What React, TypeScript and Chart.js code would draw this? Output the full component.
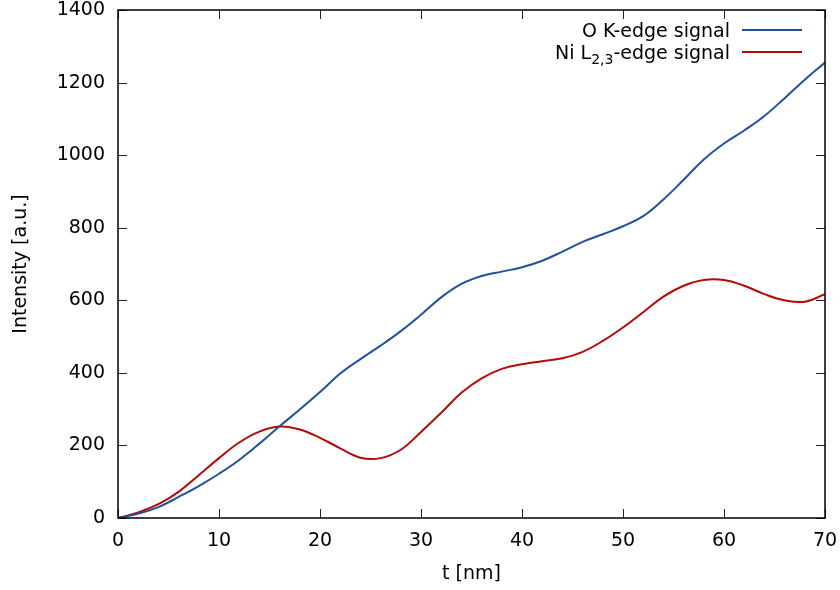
import React, { useEffect, useRef } from "react";
import { Chart, registerables } from "chart.js";

Chart.register(...registerables);

const tValues = [0, 2, 4, 6, 8, 10, 12, 14, 16, 18, 20, 22, 24, 26, 28, 30, 32, 34, 36, 38, 40, 42, 44, 46, 48, 50, 52, 54, 56, 58, 60, 62, 64, 66, 68, 70];

const oKEdge = [0, 12, 30, 58, 88, 122, 160, 205, 253, 299, 347, 398, 438, 475, 515, 560, 608, 645, 667, 679, 691, 709, 734, 761, 782, 804, 832, 878, 932, 988, 1032, 1068, 1108, 1157, 1208, 1255];

const niL23Edge = [0, 15, 38, 72, 118, 165, 208, 238, 252, 244, 221, 192, 166, 165, 188, 237, 290, 345, 385, 411, 424, 432, 440, 458, 488, 525, 567, 610, 640, 656, 656, 640, 617, 600, 596, 617];

const xTicks = [0, 10, 20, 30, 40, 50, 60, 70];
const yTicks = [0, 200, 400, 600, 800, 1000, 1200, 1400];

const blue = "#22519a";
const red = "#b30a0a";
const FONT = "'DejaVu Sans', sans-serif";

const framePlugin = {
  id: "frameTicks",
  afterDraw(chart: any) {
    const ctx = chart.ctx;
    const { left, right, top, bottom } = chart.chartArea;
    const xs = chart.scales.x;
    const ys = chart.scales.y;
    const len = 9;
    ctx.save();
    ctx.strokeStyle = "#222";
    ctx.lineWidth = 1;
    ctx.beginPath();
    xTicks.forEach((v) => {
      const px = Math.round(xs.getPixelForValue(v)) + 0.5;
      ctx.moveTo(px, bottom);
      ctx.lineTo(px, bottom - len);
      ctx.moveTo(px, top);
      ctx.lineTo(px, top + len);
    });
    yTicks.forEach((v) => {
      const py = Math.round(ys.getPixelForValue(v)) + 0.5;
      ctx.moveTo(left, py);
      ctx.lineTo(left + len, py);
      ctx.moveTo(right, py);
      ctx.lineTo(right - len, py);
    });
    ctx.stroke();
    ctx.strokeStyle = "#000";
    ctx.lineWidth = 1.5;
    ctx.strokeRect(left, top, right - left, bottom - top);

    // legend
    const textRight = 730;
    const lineX0 = 742;
    const lineX1 = 802;
    const rows = [
      { y: 30, base: 37, color: blue },
      { y: 52, base: 58.5, color: red },
    ];
    ctx.fillStyle = "#000";
    ctx.textBaseline = "alphabetic";
    ctx.textAlign = "left";
    ctx.font = `19px ${FONT}`;
    const t1 = "O K-edge signal";
    const w1 = ctx.measureText(t1).width;
    ctx.fillText(t1, textRight - w1, rows[0].base);
    const partA = "Ni L";
    const sub = "2,3";
    const partB = "-edge signal";
    ctx.font = `19px ${FONT}`;
    const wA = ctx.measureText(partA).width;
    const wB = ctx.measureText(partB).width;
    ctx.font = `14px ${FONT}`;
    const wS = ctx.measureText(sub).width;
    let x = textRight - (wA + wS + wB);
    ctx.font = `19px ${FONT}`;
    ctx.fillText(partA, x, rows[1].base);
    x += wA;
    ctx.font = `14px ${FONT}`;
    ctx.fillText(sub, x, rows[1].base + 5);
    x += wS;
    ctx.font = `19px ${FONT}`;
    ctx.fillText(partB, x, rows[1].base);

    rows.forEach((r) => {
      ctx.strokeStyle = r.color;
      ctx.lineWidth = 2;
      ctx.beginPath();
      ctx.moveTo(lineX0, r.y);
      ctx.lineTo(lineX1, r.y);
      ctx.stroke();
    });
    ctx.restore();
  },
};

export default function App() {
  const ref = useRef<HTMLCanvasElement | null>(null);

  useEffect(() => {
    document.body.style.margin = "0";
    const canvas = ref.current;
    if (!canvas) return;
    const chart = new Chart(canvas, {
      type: "line",
      data: {
        labels: tValues,
        datasets: [
          {
            label: "O K-edge signal",
            data: tValues.map((t, i) => ({ x: t, y: oKEdge[i] })),
            borderColor: blue,
            backgroundColor: blue,
            borderWidth: 2,
            pointRadius: 0,
            tension: 0.4,
            fill: false,
          },
          {
            label: "Ni L2,3-edge signal",
            data: tValues.map((t, i) => ({ x: t, y: niL23Edge[i] })),
            borderColor: red,
            backgroundColor: red,
            borderWidth: 2,
            pointRadius: 0,
            tension: 0.4,
            fill: false,
          },
        ],
      },
      options: {
        animation: false,
        responsive: false,
        devicePixelRatio: 1,
        layout: { padding: { top: 10, right: 15, left: 0, bottom: 0 } },
        plugins: {
          legend: { display: false },
          tooltip: { enabled: false },
          title: { display: false },
        },
        scales: {
          x: {
            type: "linear",
            min: 0,
            max: 70,
            grid: { display: false, drawTicks: false },
            border: { display: false },
            ticks: {
              stepSize: 10,
              padding: 12,
              color: "#000",
              font: { family: FONT, size: 19 },
              maxRotation: 0,
              autoSkip: false,
              callback: (v: any) => String(v),
            },
            title: {
              display: true,
              text: "t [nm]",
              color: "#000",
              font: { family: FONT, size: 19 },
              padding: { top: 0, bottom: 5 },
            },
            afterFit: (s: any) => {
              s.height = 72;
              s.paddingLeft = 0;
              s.paddingRight = 0;
            },
          },
          y: {
            type: "linear",
            min: 0,
            max: 1400,
            grid: { display: false, drawTicks: false },
            border: { display: false },
            ticks: {
              stepSize: 200,
              padding: 13,
              color: "#000",
              font: { family: FONT, size: 19 },
              autoSkip: false,
              callback: (v: any) => String(v),
            },
            title: {
              display: true,
              text: "Intensity [a.u.]",
              color: "#000",
              font: { family: FONT, size: 19 },
              padding: { top: 10, bottom: 0 },
            },
            afterFit: (s: any) => {
              s.width = 118;
              s.paddingTop = 0;
              s.paddingBottom = 0;
            },
          },
        },
      },
      plugins: [framePlugin],
    } as any);
    return () => chart.destroy();
  }, []);

  return (
    <canvas
      ref={ref}
      width={840}
      height={590}
      style={{ display: "block", width: 840, height: 590 }}
    />
  );
}
